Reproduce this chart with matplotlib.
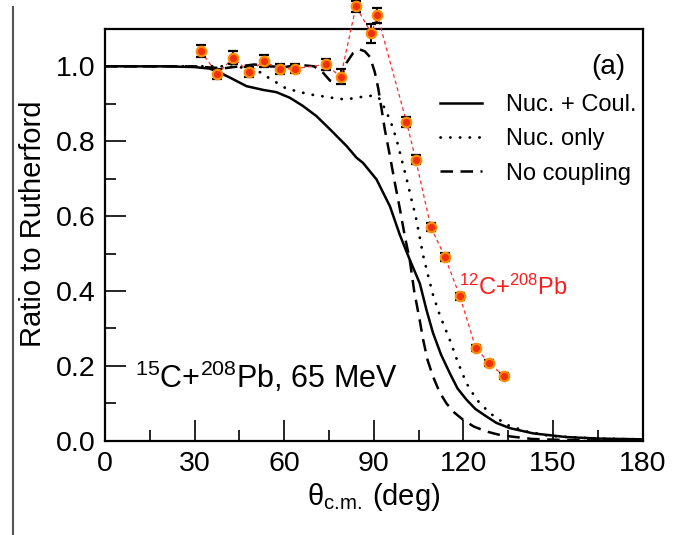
import matplotlib

matplotlib.use("Agg")

import matplotlib.pyplot as plt
from matplotlib.lines import Line2D
from matplotlib.ticker import MultipleLocator, FormatStrFormatter

plt.rcParams["font.family"] = ["Liberation Sans", "DejaVu Sans"]
plt.rcParams["mathtext.fontset"] = "custom"
plt.rcParams["mathtext.rm"] = "Liberation Sans"
plt.rcParams["mathtext.it"] = "Liberation Sans:italic"
plt.rcParams["mathtext.bf"] = "Liberation Sans:bold"

# Calculations: ratio to Rutherford vs. c.m. angle
theta_nc = [0, 10, 20, 30, 35, 38.5, 41.8, 47.4, 53, 57.4, 61.9, 66.3, 70.8, 75.3,
            80.9, 84.2, 86.4, 90.9, 95.4, 98.7, 102, 105.4, 107.6, 109.8, 112.5,
            115.4, 118, 121, 124, 127.7, 131, 135.5, 143.3, 154.5, 165.6, 180]
ratio_nc = [1.0, 1.0, 1.0, 0.998, 0.994, 0.983, 0.970, 0.947, 0.937, 0.931, 0.916,
            0.894, 0.867, 0.832, 0.787, 0.756, 0.742, 0.698, 0.626, 0.55, 0.484,
            0.42, 0.35, 0.288, 0.23, 0.181, 0.14, 0.11, 0.085, 0.065, 0.048, 0.034,
            0.02, 0.01, 0.006, 0.004]

theta_n = [0, 30, 40, 45, 48, 52.4, 55.2, 58, 60.8, 64.1, 67.5, 70.8, 73.9, 77.5,
           80.3, 83.6, 87, 90.3, 92.5, 93.7, 95.4, 97.6, 99.3, 100.9, 102.6, 104,
           105.2, 106.5, 108.2, 109.8, 112.1, 115.4, 118.2, 121, 124.4, 128.8,
           134.4, 141.1, 148.9, 165, 180]
ratio_n = [1.0, 1.0, 1.0, 0.998, 0.994, 0.983, 0.967, 0.954, 0.940, 0.934, 0.927,
           0.922, 0.919, 0.914, 0.912, 0.915, 0.92, 0.922, 0.91, 0.885, 0.858,
           0.805, 0.751, 0.702, 0.644, 0.6, 0.55, 0.495, 0.44, 0.39, 0.335, 0.27,
           0.208, 0.154, 0.11, 0.074, 0.043, 0.025, 0.013, 0.006, 0.004]

theta_0 = [0, 30, 35, 40, 45, 50, 55, 60, 65, 70, 73, 75.3, 77.5, 79, 80.9, 83,
           85.3, 87, 88.7, 90.3, 91.5, 92.6, 93.7, 95.4, 97, 98.7, 100.4, 102,
           103.5, 105.4, 106.5, 108, 109.8, 112, 114.3, 117, 119.9, 123.5, 127.7,
           131.5, 135.5, 143, 155, 180]
ratio_0 = [1.0, 1.0, 0.997, 0.995, 1.0, 1.005, 1.0, 0.998, 1.004, 1.0, 0.983,
           0.962, 0.957, 0.97, 1.01, 1.035, 1.045, 1.04, 1.025, 0.985, 0.94, 0.885,
           0.83, 0.76, 0.69, 0.62, 0.545, 0.484, 0.4, 0.32, 0.27, 0.215, 0.172,
           0.13, 0.10, 0.075, 0.056, 0.038, 0.025, 0.017, 0.012, 0.005, 0.002, 0.0]

# 12C+208Pb measurement
theta_exp = [32.1, 37.6, 42.9, 48.2, 53.2, 58.5, 63.6, 73.9, 78.9, 84.0, 89.2,
             91.2, 100.9, 104.0, 109.1, 113.8, 118.8, 124.1, 128.6, 133.6]
ratio_exp = [1.041, 0.979, 1.023, 0.985, 1.014, 0.992, 0.994, 1.005, 0.972, 1.160,
             1.088, 1.136, 0.852, 0.751, 0.570, 0.491, 0.386, 0.248, 0.208, 0.172]
err_exp = [0.017, 0.013, 0.018, 0.014, 0.017, 0.013, 0.013, 0.015, 0.02, 0.015,
           0.025, 0.02, 0.013, 0.013, 0.011, 0.011, 0.01, 0.009, 0.009, 0.008]

fig = plt.figure(figsize=(6.73, 5.35), dpi=100)
ax = fig.add_axes([0.156, 0.176, 0.799, 0.770])

ax.plot(theta_nc, ratio_nc, color="black", lw=1.8, label="Nuc. + Coul.")
ax.plot(theta_n, ratio_n, color="black", lw=2.0, linestyle=(0, (0.1, 3.4)),
        dash_capstyle="round", label="Nuc. only")
ax.plot(theta_0, ratio_0, color="black", lw=1.8, linestyle=(0, (5, 3)),
        label="No coupling")

ax.plot(theta_exp, ratio_exp, color="#ff2a2a", lw=0.9, linestyle=(0, (3, 2.5)),
        clip_on=False, zorder=4)
ax.errorbar(theta_exp, ratio_exp, yerr=err_exp, fmt="none", ecolor="black",
            elinewidth=1.4, capsize=3.3, capthick=1.6, clip_on=False, zorder=5)
ax.plot(theta_exp, ratio_exp, "o", ms=6.8, mfc="#f0300c", mec="#ff8c00",
        mew=1.6, clip_on=False, zorder=6)

ax.set_xlim(0, 180)
ax.set_ylim(0, 1.10)
ax.xaxis.set_major_locator(MultipleLocator(30))
ax.xaxis.set_minor_locator(MultipleLocator(15))
ax.yaxis.set_major_locator(MultipleLocator(0.2))
ax.yaxis.set_minor_locator(MultipleLocator(0.1))
ax.yaxis.set_major_formatter(FormatStrFormatter("%.1f"))
ax.tick_params(which="both", direction="in", top=False, right=False,
               width=1.2, colors="black", labelsize=20.5)
ax.tick_params(which="major", length=15, pad=7)
ax.tick_params(which="minor", length=8)
for s in ax.spines.values():
    s.set_linewidth(1.6)

ax.set_xlabel(r"θ$_{\mathrm{c.\!m.\!}}$ (deg)", fontsize=21, labelpad=3)
ax.set_ylabel("Ratio to Rutherford", fontsize=21)
ax.yaxis.set_label_coords(-0.108, 0.527)

ax.legend(loc="upper left", bbox_to_anchor=(0.623, 0.842), frameon=False,
          fontsize=17, handlelength=1.8, handletextpad=1.0, labelspacing=0.52,
          borderpad=0, borderaxespad=0)

ax.text(0.967, 0.908, "(a)", transform=ax.transAxes, fontsize=20,
        ha="right", va="center")
ax.text(0.056, 0.129, "$^{15}$C+$^{208}$Pb, 65 MeV", transform=ax.transAxes,
        fontsize=22, ha="left", va="baseline")
ax.text(0.658, 0.354, "$^{12}$C+$^{208}$Pb", transform=ax.transAxes,
        fontsize=17, color="#ff1a1a", ha="left", va="baseline")

# page edge on the left
fig.add_artist(Line2D([0.02, 0.02], [0.0, 0.987], color="#555555", lw=1.5))

fig.savefig("out.png", dpi=100)
